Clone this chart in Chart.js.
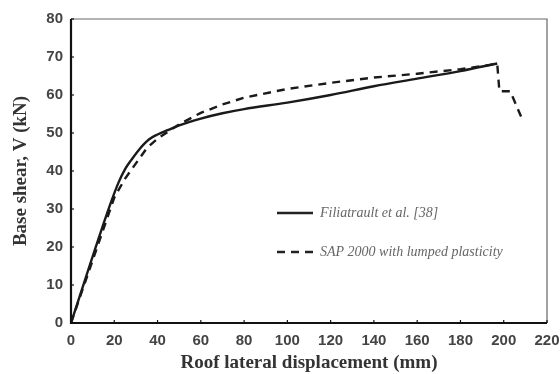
<!DOCTYPE html>
<html><head><meta charset="utf-8">
<script src="https://cdn.jsdelivr.net/npm/chart.js@4.4.0/dist/chart.umd.min.js"></script>
<style>html,body{margin:0;padding:0;background:#fff}#wrap{width:560px;height:374px;position:relative}</style>
</head><body><div id="wrap"><canvas id="c" width="560" height="374"></canvas></div>
<script>
// Data
const solidX = [0, 18, 22, 25, 28, 32, 36, 40, 45, 50, 60, 70, 80, 100, 120, 140, 160, 180, 197];
const solidY = [0, 31, 37, 40.5, 43, 46, 48.3, 49.6, 50.8, 52, 53.8, 55.2, 56.3, 58, 60, 62.3, 64.3, 66.3, 68.3];
const dashX = [0, 20, 25, 30, 35, 40, 50, 60, 70, 80, 100, 120, 140, 160, 180, 197, 198, 203, 209];
const dashY = [0, 33, 38, 42, 46, 48.5, 52.3, 55.3, 57.5, 59.3, 61.6, 63.2, 64.6, 65.6, 66.8, 68.2, 61, 61, 53];
const seriesNames = ["Filiatrault et al. [38]", "SAP 2000 with lumped plasticity"];
const xTitle = "Roof lateral displacement (mm)";
const yTitle = "Base shear, V (kN)";

const toPts = (xs, ys) => xs.map((x, i) => ({x: x, y: ys[i]}));

const frame = {
  id: 'frame',
  afterDatasetsDraw(chart) {
    const {ctx, chartArea: a, scales} = chart;
    ctx.save();
    ctx.strokeStyle = '#666'; ctx.lineWidth = 1.2;
    ctx.beginPath(); ctx.moveTo(a.left, a.top); ctx.lineTo(a.right, a.top); ctx.lineTo(a.right, a.bottom); ctx.stroke();
    ctx.strokeStyle = '#111'; ctx.lineWidth = 2.2;
    ctx.beginPath(); ctx.moveTo(a.left, a.top); ctx.lineTo(a.left, a.bottom); ctx.lineTo(a.right, a.bottom); ctx.stroke();
    ctx.lineWidth = 1.2;
    scales.x.ticks.forEach(t => { const px = scales.x.getPixelForValue(t.value); ctx.beginPath(); ctx.moveTo(px, a.bottom); ctx.lineTo(px, a.bottom - 3); ctx.stroke(); });
    scales.y.ticks.forEach(t => { const py = scales.y.getPixelForValue(t.value); ctx.beginPath(); ctx.moveTo(a.left, py); ctx.lineTo(a.left + 3, py); ctx.stroke(); });
    const lx = 277, lw = 36;
    const ly = [213, 252];
    chart.data.datasets.forEach((ds, i) => {
      ctx.strokeStyle = '#222'; ctx.lineWidth = 2.4;
      ctx.setLineDash(ds.borderDash || []);
      ctx.beginPath(); ctx.moveTo(lx, ly[i]); ctx.lineTo(lx + lw, ly[i]); ctx.stroke();
      ctx.setLineDash([]);
      ctx.fillStyle = '#666';
      ctx.font = 'italic 14px "Liberation Serif"';
      ctx.textBaseline = 'middle';
      ctx.fillText(ds.label, lx + lw + 7, ly[i]);
    });
    ctx.restore();
  }
};

new Chart(document.getElementById('c'), {
  type: 'scatter',
  data: {
    datasets: [
      {label: seriesNames[0], data: toPts(solidX, solidY), showLine: true, borderColor: '#1a1a1a', borderWidth: 2.4, pointRadius: 0, tension: 0.3, cubicInterpolationMode: 'monotone'},
      {label: seriesNames[1], data: toPts(dashX, dashY), showLine: true, borderColor: '#1a1a1a', borderWidth: 2.4, borderDash: [8, 6], pointRadius: 0, tension: 0}
    ]
  },
  options: {
    responsive: false, animation: false,
    layout: {padding: {top: 19, right: 13, left: 0, bottom: 0}},
    plugins: {legend: {display: false}, tooltip: {enabled: false}},
    scales: {
      x: {
        type: 'linear', min: 0, max: 220,
        grid: {display: false, drawTicks: false},
        border: {display: false},
        ticks: {stepSize: 20, color: '#444', font: {family: '"Liberation Sans"', weight: 'bold', size: 15}, padding: 9, maxRotation: 0},
        title: {display: true, text: xTitle, color: '#333', font: {family: '"Liberation Serif"', weight: 'bold', size: 19}, padding: {top: 0, bottom: 0}},
        afterFit(s) { s.height = 51; s.paddingLeft = 0; s.paddingRight = 0; }
      },
      y: {
        min: 0, max: 80,
        grid: {display: false, drawTicks: false},
        border: {display: false},
        ticks: {stepSize: 10, color: '#444', font: {family: '"Liberation Sans"', weight: 'bold', size: 15}, padding: 8},
        title: {display: true, text: yTitle, color: '#333', font: {family: '"Liberation Serif"', weight: 'bold', size: 19}, padding: {top: 10, bottom: 0}},
        afterFit(s) { s.width = 71; s.paddingTop = 0; s.paddingBottom = 0; }
      }
    }
  },
  plugins: [frame]
});
</script></body></html>
